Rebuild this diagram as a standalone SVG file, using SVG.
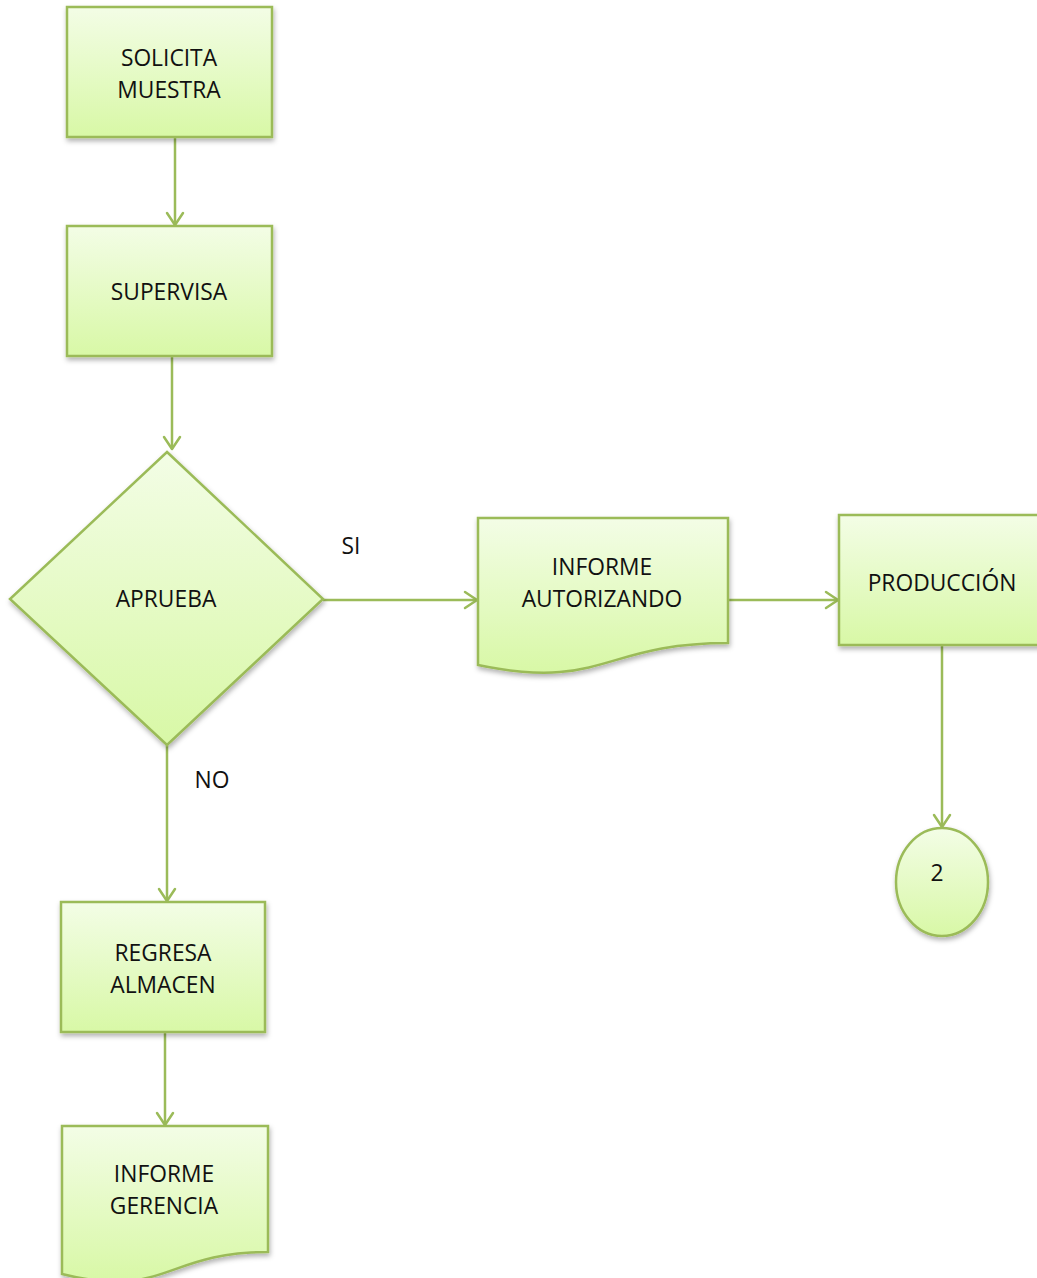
<svg xmlns="http://www.w3.org/2000/svg" width="1037" height="1278" viewBox="0 0 1037 1278">
<defs>
<linearGradient id="g" x1="0" y1="0" x2="0" y2="1">
<stop offset="0" stop-color="#f3fde6"/>
<stop offset="1" stop-color="#d8f8a6"/>
</linearGradient>
<filter id="sh" x="-10%" y="-10%" width="125%" height="130%">
<feDropShadow dx="1" dy="3" stdDeviation="2.5" flood-color="#000" flood-opacity="0.3"/>
</filter>
<marker id="arr" markerWidth="20" markerHeight="20" viewBox="-14 -10 16 20" refX="0" refY="0" orient="auto" markerUnits="userSpaceOnUse">
<path d="M-12,-8 L0,0 L-12,8" fill="none" stroke="#9bbb59" stroke-width="2.5" stroke-linecap="round" stroke-linejoin="round"/>
</marker>
</defs>
<style>
.s{fill:url(#g);stroke:#9bbb59;stroke-width:2.5;filter:url(#sh)}
.t{font-family:"Open Sans","Liberation Sans",sans-serif;font-size:22.8px;fill:#111;text-anchor:middle}
.c{fill:none;stroke:#9bbb59;stroke-width:2.5;marker-end:url(#arr)}
</style>
<g id="connectors">
<line class="c" x1="175" y1="137" x2="175" y2="225"/>
<line class="c" x1="172" y1="356" x2="172" y2="449"/>
<line class="c" x1="323" y1="600" x2="477" y2="600"/>
<line class="c" x1="728" y1="600" x2="838" y2="600"/>
<line class="c" x1="942" y1="646" x2="942" y2="827"/>
<line class="c" x1="167" y1="745" x2="167" y2="901"/>
<line class="c" x1="165" y1="1032" x2="165" y2="1125"/>
</g>
<g id="labels">
<text class="t" x="351" y="554">SI</text>
<text class="t" x="212" y="788">NO</text>
</g>
<g id="n1">
<rect class="s" x="67" y="7" width="205" height="130"/>
<text class="t" x="169" y="66">SOLICITA</text>
<text class="t" x="169" y="98">MUESTRA</text>
</g>
<g id="n2">
<rect class="s" x="67" y="226" width="205" height="130"/>
<text class="t" x="169" y="300">SUPERVISA</text>
</g>
<g id="n3">
<polygon class="s" points="167,452 323,599 167,745 10,599"/>
<text class="t" x="166" y="607">APRUEBA</text>
</g>
<g id="n4">
<path class="s" d="M478,518 H728 V643 C603,643 603,691 478,665 Z"/>
<text class="t" x="602" y="575">INFORME</text>
<text class="t" x="602" y="607">AUTORIZANDO</text>
</g>
<g id="n5">
<rect class="s" x="839" y="515" width="210" height="130"/>
<text class="t" x="942" y="591">PRODUCCIÓN</text>
</g>
<g id="n6">
<ellipse class="s" cx="942" cy="882" rx="46" ry="54"/>
<text class="t" x="937" y="881">2</text>
</g>
<g id="n7">
<rect class="s" x="61" y="902" width="204" height="130"/>
<text class="t" x="163" y="961">REGRESA</text>
<text class="t" x="163" y="993">ALMACEN</text>
</g>
<g id="n8">
<path class="s" d="M62,1126 H268 V1252 C165,1252 165,1300 62,1274 Z"/>
<text class="t" x="164" y="1182">INFORME</text>
<text class="t" x="164" y="1214">GERENCIA</text>
</g>
</svg>
